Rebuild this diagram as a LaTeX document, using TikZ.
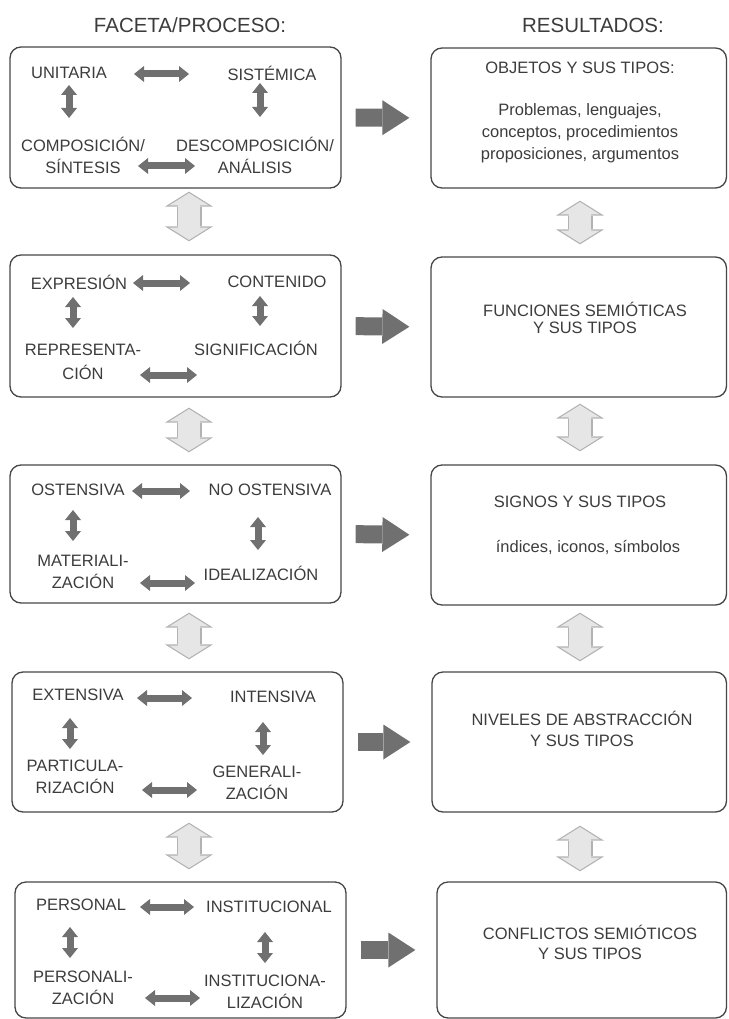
\documentclass[tikz,border=0pt]{standalone}
\usepackage{fontspec}
\setmainfont{Liberation Sans}
\usetikzlibrary{arrows.meta}
\definecolor{arrgray}{RGB}{112,112,112}
\definecolor{lgfill}{RGB}{230,230,230}
\definecolor{lgedge}{RGB}{178,178,178}
\definecolor{txtgray}{RGB}{60,60,60}
\definecolor{boxgray}{RGB}{70,70,70}

\begin{document}
\begin{tikzpicture}[x=1pt,y=-1pt,
	facet/.style={draw=boxgray,line width=1.3pt,rounded corners=11pt,inner sep=0pt},
	lbl/.style={font=\fontsize{16.5}{22}\selectfont,text=txtgray,align=center,inner sep=0pt},
	head/.style={font=\fontsize{20.5}{24}\selectfont,text=txtgray,inner sep=0pt},
	dbl/.style={line width=7pt,arrgray,{Triangle[width=16pt,length=10pt,line width=0pt]}-{Triangle[width=16pt,length=10pt,line width=0pt]}},
	bigarr/.style={line width=18pt,arrgray,-{Triangle[width=35pt,length=27pt,line width=0pt]},shorten <=14pt,shorten >=21pt},
	lgout/.style={line width=25pt,lgedge,{Triangle[width=48pt,length=15pt,line width=0pt]}-{Triangle[width=48pt,length=15pt,line width=0pt]}},
	lgin/.style={line width=22.6pt,lgfill,{Triangle[width=39.6pt,length=12.4pt,line width=0pt]}-{Triangle[width=39.6pt,length=12.4pt,line width=0pt]}}]
\useasboundingbox (0,0) rectangle (728,1019);
\node[head] (hl) at (190,25) {FACETA/PROCESO:};
\node[head] (hr) at (593,25) {RESULTADOS:};
\coordinate (lx) at (189,0);
\coordinate (rx) at (580,0);
% faceta 1
\begin{scope}
	\node[facet,minimum width=331pt,minimum height=141pt] (F1) at (175.5,117.5) {};
	\node[lbl] (a1) at (69,73) {UNITARIA};
	\node[lbl] (b1) at (272,73) {SISTÉMICA};
	\node[lbl] (c1) at (83,155) {COMPOSICIÓN/\\SÍNTESIS};
	\node[lbl] (d1) at (255,155) {DESCOMPOSICIÓN/\\ANÁLISIS};
	\coordinate (HA) at (134,74);
	\coordinate (HB) at (189,74);
	\coordinate (LA) at (138,166);
	\coordinate (LB) at (195,166);
	\coordinate (VA) at (69,85);
	\coordinate (VB) at (69,118);
	\coordinate (WA) at (260,83);
	\coordinate (WB) at (260,117);
	\draw[dbl] (HA)--(HB);
	\draw[dbl] (LA)--(LB);
	\draw[dbl] (VA)--(VB);
	\draw[dbl] (WA)--(WB);
\end{scope}
% faceta 2
\begin{scope}
	\node[facet,minimum width=331pt,minimum height=142pt] (F2) at (175.5,326) {};
	\node[lbl] (a2) at (79,282) {EXPRESIÓN};
	\node[lbl] (b2) at (277,282) {CONTENIDO};
	\node[lbl] (c2) at (83,362) {REPRESENTA-\\[2pt]CIÓN};
	\node[lbl] (d2) at (256,348) {SIGNIFICACIÓN};
	\coordinate (HA) at (133,283);
	\coordinate (HB) at (190,283);
	\coordinate (LA) at (140,375);
	\coordinate (LB) at (197,375);
	\coordinate (VA) at (73,297);
	\coordinate (VB) at (73,328);
	\coordinate (WA) at (260,296);
	\coordinate (WB) at (260,326);
	\draw[dbl] (HA)--(HB);
	\draw[dbl] (LA)--(LB);
	\draw[dbl] (VA)--(VB);
	\draw[dbl] (WA)--(WB);
\end{scope}
% faceta 3
\begin{scope}
	\node[facet,minimum width=331pt,minimum height=138pt] (F3) at (175.5,534) {};
	\node[lbl] (a3) at (78,490) {OSTENSIVA};
	\node[lbl] (b3) at (270,490) {NO OSTENSIVA};
	\node[lbl] (c3) at (83,572) {MATERIALI-\\ZACIÓN};
	\node[lbl] (d3) at (261,573) {IDEALIZACIÓN};
	\coordinate (HA) at (132,491);
	\coordinate (HB) at (190,491);
	\coordinate (LA) at (140,583);
	\coordinate (LB) at (195,583);
	\coordinate (VA) at (73,510);
	\coordinate (VB) at (73,541);
	\coordinate (WA) at (258,517);
	\coordinate (WB) at (258,550);
	\draw[dbl] (HA)--(HB);
	\draw[dbl] (LA)--(LB);
	\draw[dbl] (VA)--(VB);
	\draw[dbl] (WA)--(WB);
\end{scope}
% faceta 4
\begin{scope}
	\node[facet,minimum width=331pt,minimum height=140pt] (F4) at (177.5,742) {};
	\node[lbl] (a4) at (78,695) {EXTENSIVA};
	\node[lbl] (b4) at (273,697) {INTENSIVA};
	\node[lbl] (c4) at (75,777) {PARTICULA-\\RIZACIÓN};
	\node[lbl] (d4) at (257,783) {GENERALI-\\ZACIÓN};
	\coordinate (HA) at (137,698);
	\coordinate (HB) at (192,698);
	\coordinate (LA) at (142,790);
	\coordinate (LB) at (197,790);
	\coordinate (VA) at (70,718);
	\coordinate (VB) at (70,749);
	\coordinate (WA) at (263,722);
	\coordinate (WB) at (263,755);
	\draw[dbl] (HA)--(HB);
	\draw[dbl] (LA)--(LB);
	\draw[dbl] (VA)--(VB);
	\draw[dbl] (WA)--(WB);
\end{scope}
% faceta 5
\begin{scope}
	\node[facet,minimum width=331pt,minimum height=136pt] (F5) at (180.5,950) {};
	\node[lbl] (a5) at (81,905) {PERSONAL};
	\node[lbl] (b5) at (269,907) {INSTITUCIONAL};
	\node[lbl] (c5) at (83,988) {PERSONALI-\\ZACIÓN};
	\node[lbl] (d5) at (265,992) {INSTITUCIONA-\\LIZACIÓN};
	\coordinate (HA) at (140,907);
	\coordinate (HB) at (194,907);
	\coordinate (LA) at (145,998);
	\coordinate (LB) at (200,998);
	\coordinate (VA) at (70,927);
	\coordinate (VB) at (70,958);
	\coordinate (WA) at (265,932);
	\coordinate (WB) at (265,963);
	\draw[dbl] (HA)--(HB);
	\draw[dbl] (LA)--(LB);
	\draw[dbl] (VA)--(VB);
	\draw[dbl] (WA)--(WB);
\end{scope}
% resultados
\node[facet,minimum width=295.5pt,minimum height=140pt] (R1) at (578.75,118) {};
\node[lbl] (o1) at (580,68) {OBJETOS Y SUS TIPOS:};
\node[lbl] (p1) at (580,133) {Problemas, lenguajes,\\conceptos, procedimientos\\proposiciones, argumentos};
\node[facet,minimum width=295.5pt,minimum height=140pt] (R2) at (578.75,327) {};
\node[lbl] (o2) at (585,318) {FUNCIONES SEMIÓTICAS\\[-5pt]Y SUS TIPOS};
\node[facet,minimum width=295.5pt,minimum height=140pt] (R3) at (578.75,535) {};
\node[lbl] (o3) at (580,502) {SIGNOS Y SUS TIPOS};
\node[lbl] (p3) at (588,547) {índices, iconos, símbolos};
\node[facet,minimum width=294.5pt,minimum height=140pt] (R4) at (579.25,742) {};
\node[lbl] (o4) at (582,729) {NIVELES DE ABSTRACCIÓN\\[-1pt]Y SUS TIPOS};
\node[facet,minimum width=289.5pt,minimum height=136pt] (R5) at (581.75,950) {};
\node[lbl] (o5) at (590,942) {CONFLICTOS SEMIÓTICOS\\[-2pt]Y SUS TIPOS};
% flechas grandes
\draw[bigarr] (F1.east)--(R1.west);
\draw[bigarr] (F2.east)--(R2.west);
\draw[bigarr] (F3.east)--(R3.west);
\draw[bigarr] (F4.east)--(R4.west);
\draw[bigarr] (F5.east)--(R5.west);
% flechas claras
\draw[lgout,shorten <=3pt,shorten >=13pt] (F1.south -| lx)--(F2.north -| lx);
\draw[lgin,shorten <=4.4pt,shorten >=14.4pt] (F1.south -| lx)--(F2.north -| lx);
\draw[lgout,shorten <=10pt,shorten >=12pt] (F2.south -| lx)--(F3.north -| lx);
\draw[lgin,shorten <=11.4pt,shorten >=13.4pt] (F2.south -| lx)--(F3.north -| lx);
\draw[lgout,shorten <=9pt,shorten >=12pt] (F3.south -| lx)--(F4.north -| lx);
\draw[lgin,shorten <=10.4pt,shorten >=13.4pt] (F3.south -| lx)--(F4.north -| lx);
\draw[lgout,shorten <=10pt,shorten >=12pt] (F4.south -| lx)--(F5.north -| lx);
\draw[lgin,shorten <=11.4pt,shorten >=13.4pt] (F4.south -| lx)--(F5.north -| lx);
\draw[lgout,shorten <=12pt,shorten >=12pt] (R1.south -| rx)--(R2.north -| rx);
\draw[lgin,shorten <=13.4pt,shorten >=13.4pt] (R1.south -| rx)--(R2.north -| rx);
\draw[lgout,shorten <=6pt,shorten >=13pt] (R2.south -| rx)--(R3.north -| rx);
\draw[lgin,shorten <=7.4pt,shorten >=14.4pt] (R2.south -| rx)--(R3.north -| rx);
\draw[lgout,shorten <=7pt,shorten >=10pt] (R3.south -| rx)--(R4.north -| rx);
\draw[lgin,shorten <=8.4pt,shorten >=11.4pt] (R3.south -| rx)--(R4.north -| rx);
\draw[lgout,shorten <=13pt,shorten >=10pt] (R4.south -| rx)--(R5.north -| rx);
\draw[lgin,shorten <=14.4pt,shorten >=11.4pt] (R4.south -| rx)--(R5.north -| rx);
\end{tikzpicture}
\end{document}
